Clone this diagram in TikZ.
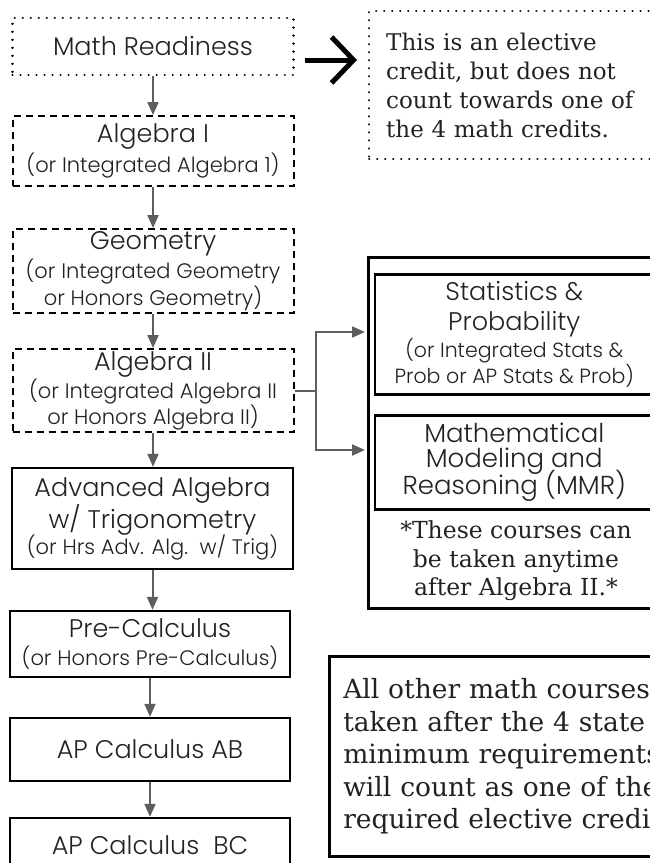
\documentclass[tikz,border=0pt]{standalone}
\usepackage{fontspec}
\setmainfont{DejaVu Serif}
\IfFontExistsTF{Poppins Light}{\setsansfont{Poppins Light}}{\setsansfont{Poppins}}
\usetikzlibrary{arrows.meta}
\definecolor{arrgray}{HTML}{5E5E5E}
\definecolor{txt}{HTML}{222222}
\newcommand\bigt{\fontsize{25.5}{29}\selectfont}
\newcommand\smallt{\fontsize{21}{27}\selectfont}
\begin{document}
\begin{tikzpicture}[x=1pt,y=-1pt,
  course/.style={draw=black, line width=2pt, minimum width=281pt, inner sep=0pt,
    align=center, font=\sffamily\smallt, text=txt},
  dottedbox/.style={course, line width=2.4pt, dash pattern=on 0.01pt off 8pt, line cap=round},
  dashedbox/.style={course, dash pattern=on 7pt off 5pt},
  solidbox/.style={course, line width=2.4pt},
  panel/.style={draw=black, line width=2.6pt, anchor=north west, inner sep=0pt, text=txt},
  arr/.style={draw=arrgray, line width=2pt, -{Triangle[length=13pt,width=11pt]}},
  bigarrow/.style={draw=black, line width=5pt, -{Straight Barb[length=22pt,width=46pt]}}
]
\useasboundingbox (0,0) rectangle (650,863);
\clip (0,0) rectangle (650,863);

% left column
\node[dottedbox, minimum height=57pt] (mr) at (153,46.5) {{\bigt Math Readiness}};
\node[dashedbox, minimum height=70pt] (a1) at (153,151) {{\bigt Algebra I}\\[3pt](or Integrated Algebra 1)};
\node[dashedbox, minimum height=84pt] (geo) at (153,271) {{\bigt Geometry}\\[2pt](or Integrated Geometry\\or Honors Geometry)};
\node[dashedbox, minimum height=83pt] (a2) at (153,390.5) {{\bigt Algebra II}\\[1pt](or Integrated Algebra II\\[-1pt]or Honors Algebra II)};
\node[solidbox, minimum height=101pt] (aa) at (152.5,518.5) {{\bigt Advanced Algebra}\\[0pt]{\bigt w/ Trigonometry}\\[-1pt](or Hrs Adv. Alg.\ \ w/ Trig)};
\node[solidbox, minimum width=280pt, minimum height=66pt] (pc) at (150,644) {{\bigt Pre-Calculus}\\[1pt](or Honors Pre-Calculus)};
\node[solidbox, minimum width=280pt, minimum height=63pt] (ab) at (150,749.5) {{\bigt AP Calculus AB}};
\node[solidbox, minimum width=280pt, minimum height=54pt] (bc) at (150,845) {{\bigt AP Calculus\ \ BC}};

\draw[arr] (mr.south) -- (mr.south |- a1.north);
\draw[arr] (a1.south) -- (a1.south |- geo.north);
\draw[arr] (geo.south) -- (geo.south |- a2.north);
\draw[arr] (a2.south) -- (a2.south |- aa.north);
\draw[arr] (aa.south) -- (aa.south |- pc.north);
\draw[arr] (pc.south) -- (pc.south |- ab.north);
\draw[arr] (ab.south) -- (ab.south |- bc.north);

% top right note
\node[dottedbox, anchor=north west, minimum height=148pt, text width=300pt,
  inner xsep=17pt, align=left, font=\rmfamily\fontsize{23}{29}\selectfont] (note) at (368,10)
  {This is an elective\\credit, but does not\\count towards one of\\the 4 math credits.};
\coordinate (bs) at (305,60);
\coordinate (be) at (357,60);
\draw[bigarrow] (bs) -- (be);

% group of anytime courses
\node[panel, line width=3pt, minimum width=300pt, minimum height=351pt] (grp) at (366.5,256) {};
\node[panel, minimum width=279pt, minimum height=120pt, align=center, font=\sffamily\fontsize{20.5}{26.5}\selectfont] (stats) at (373.5,273)
  {{\bigt Statistics \&}\\[4pt]{\bigt Probability}\\(or Integrated Stats \&\\Prob or AP Stats \& Prob)};
\node[panel, minimum width=279pt, minimum height=94pt, align=center, font=\sffamily\fontsize{26}{25.5}\selectfont] (mmr) at (373.5,414)
  {Mathematical\\Modeling and\\[-5pt]Reasoning (MMR)};
\node[align=center, text=txt, font=\rmfamily\fontsize{23.5}{28.5}\selectfont] (anyt) at (516,561)
  {*These courses can\\be taken anytime\\after Algebra II.*};

\coordinate (split) at (316,390.5);
\coordinate (t1) at (365,332);
\coordinate (t2) at (365,450);
\draw[arr] (a2.east) -- (split) |- (t1);
\draw[arr] (split) |- (t2);

% bottom right note
\node[panel, minimum height=200pt, text width=420pt, inner xsep=14pt, align=left,
  font=\rmfamily\fontsize{26.5}{32.5}\selectfont] (other) at (328,655)
  {All other math courses\\taken after the 4 state\\minimum requirements\\will count as one of the\\required elective credits.};
\end{tikzpicture}
\end{document}
